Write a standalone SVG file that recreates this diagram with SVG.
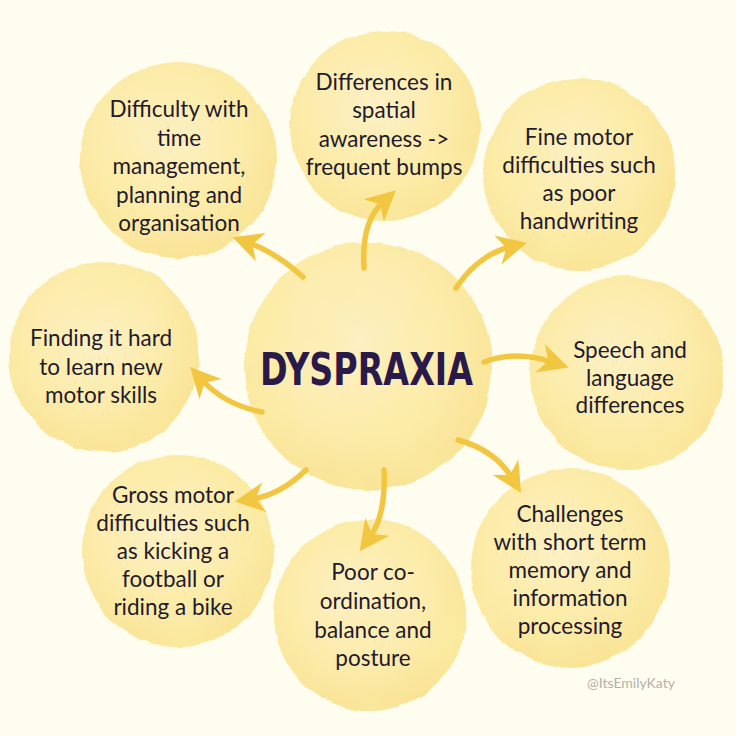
<svg xmlns="http://www.w3.org/2000/svg" width="736" height="736" viewBox="0 0 736 736">
  <defs>
    <radialGradient id="blob" cx="0.45" cy="0.4" r="0.62">
      <stop offset="0" stop-color="#fdf1c6"/>
      <stop offset="0.6" stop-color="#fcebaa"/>
      <stop offset="1" stop-color="#f9e394"/>
    </radialGradient>
    <filter id="wc" x="-10%" y="-10%" width="120%" height="120%">
      <feTurbulence type="fractalNoise" baseFrequency="0.035" numOctaves="3" seed="4" result="n"/>
      <feDisplacementMap in="SourceGraphic" in2="n" scale="5" xChannelSelector="R" yChannelSelector="G" result="d"/>
      <feTurbulence type="fractalNoise" baseFrequency="0.014" numOctaves="2" seed="9" result="m"/>
      <feColorMatrix in="m" type="matrix" values="0 0 0 0 0.97  0 0 0 0 0.85  0 0 0 0 0.38  0 0 0 1.3 -0.5" result="mc"/>
      <feComposite in="mc" in2="d" operator="atop"/>
    </filter>
    <marker id="head" markerUnits="userSpaceOnUse" markerWidth="40" markerHeight="40" viewBox="-14 -16 32 32" refX="0" refY="0" orient="auto">
      <path d="M14,0 L-10,-12 L-3,0 L-10,12 Z" fill="#f3c641"/>
    </marker>
    <style>
      .blob { fill: url(#blob); filter: url(#wc); }
      .t { font-family: Lato, "Open Sans", "Liberation Sans", sans-serif; font-size: 22.5px; fill: #1f1a2c; text-anchor: middle; }
      .arrow { fill: none; stroke: #f3c641; stroke-width: 5.5; stroke-linecap: round; marker-end: url(#head); }
    </style>
  </defs>
  <rect width="736" height="736" fill="#fefdf0"/>

  <g id="node-time">
    <circle class="blob" cx="178" cy="160" r="98"/>
    <text class="t"><tspan x="179" y="117">Difficulty with</tspan><tspan x="179" y="145.5">time</tspan><tspan x="179" y="174">management,</tspan><tspan x="179" y="202.5">planning and</tspan><tspan x="179" y="231">organisation</tspan></text>
  </g>
  <g id="node-spatial">
    <circle class="blob" cx="385" cy="126" r="95"/>
    <text class="t"><tspan x="384" y="90">Differences in</tspan><tspan x="384" y="118">spatial</tspan><tspan x="384" y="147">awareness -&gt;</tspan><tspan x="384" y="175">frequent bumps</tspan></text>
  </g>
  <g id="node-fine">
    <circle class="blob" cx="579" cy="174" r="96"/>
    <text class="t"><tspan x="579" y="145">Fine motor</tspan><tspan x="579" y="173">difficulties such</tspan><tspan x="579" y="201">as poor</tspan><tspan x="579" y="229">handwriting</tspan></text>
  </g>
  <g id="node-speech">
    <circle class="blob" cx="627" cy="373" r="97"/>
    <text class="t"><tspan x="630" y="358">Speech and</tspan><tspan x="630" y="386">language</tspan><tspan x="630" y="413">differences</tspan></text>
  </g>
  <g id="node-memory">
    <circle class="blob" cx="570" cy="568" r="99"/>
    <text class="t"><tspan x="570" y="522">Challenges</tspan><tspan x="570" y="550">with short term</tspan><tspan x="570" y="578">memory and</tspan><tspan x="570" y="606">information</tspan><tspan x="570" y="634">processing</tspan></text>
  </g>
  <g id="node-coordination">
    <circle class="blob" cx="370" cy="615" r="96"/>
    <text class="t"><tspan x="373" y="580">Poor co-</tspan><tspan x="373" y="609">ordination,</tspan><tspan x="373" y="638">balance and</tspan><tspan x="373" y="666">posture</tspan></text>
  </g>
  <g id="node-gross">
    <circle class="blob" cx="178" cy="551" r="96"/>
    <text class="t"><tspan x="173" y="503">Gross motor</tspan><tspan x="173" y="531">difficulties such</tspan><tspan x="173" y="559">as kicking a</tspan><tspan x="173" y="587">football or</tspan><tspan x="173" y="615">riding a bike</tspan></text>
  </g>
  <g id="node-learn">
    <circle class="blob" cx="104" cy="357" r="95"/>
    <text class="t"><tspan x="101" y="346">Finding it hard</tspan><tspan x="101" y="375">to learn new</tspan><tspan x="101" y="403">motor skills</tspan></text>
  </g>

  <g id="node-center">
    <circle class="blob" cx="368" cy="366" r="124"/>
    <text x="260" y="385" textLength="213" lengthAdjust="spacingAndGlyphs" style="font-family: 'DejaVu Sans', 'Liberation Sans', sans-serif; font-weight: bold; font-size: 45px; fill: #2a1a4a;">DYSPRAXIA</text>
  </g>

  <g id="connectors">
    <path class="arrow" d="M303,277 Q275,252 249,243"/>
    <path class="arrow" d="M364,268 Q361,222 383,202"/>
    <path class="arrow" d="M456,288 Q478,255 510,247"/>
    <path class="arrow" d="M484,362 Q515,350 552,362"/>
    <path class="arrow" d="M458,440 Q495,450 512,478"/>
    <path class="arrow" d="M384,470 Q386,515 370,537"/>
    <path class="arrow" d="M306,470 Q280,495 252,499"/>
    <path class="arrow" d="M262,412 Q225,405 202,380"/>
  </g>

  <text x="631" y="688" style="font-family: Lato, 'Liberation Sans', sans-serif; font-size: 14px; fill: #b3b1a8; text-anchor: middle;">@ItsEmilyKaty</text>
</svg>
